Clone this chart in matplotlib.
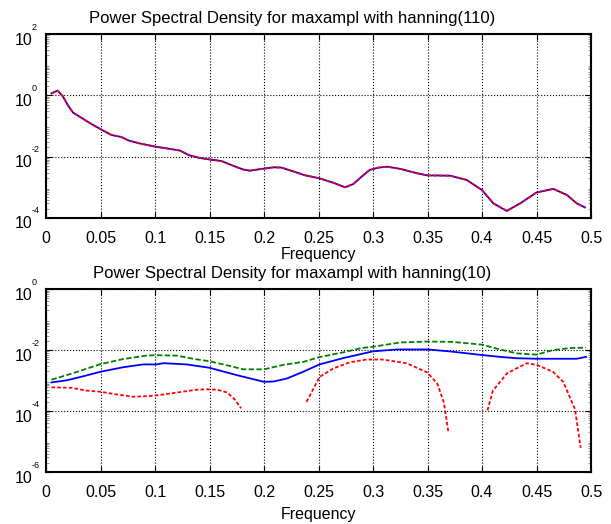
import matplotlib
matplotlib.use("Agg")
import matplotlib.pyplot as plt
import numpy as np
from matplotlib.ticker import FixedLocator, FuncFormatter, LogLocator, NullFormatter

plt.rcParams["font.family"] = ["Liberation Sans", "DejaVu Sans"]

# hanning(110) PSD: blue solid and red dashed curves coincide
top_freq = [0.005, 0.0104, 0.0153, 0.0205, 0.025, 0.031, 0.040, 0.050, 0.060, 0.069,
            0.0755, 0.086, 0.101, 0.111, 0.123, 0.131, 0.141, 0.150, 0.161, 0.172,
            0.181, 0.187, 0.196, 0.209, 0.216, 0.227, 0.237, 0.2508, 0.2636, 0.2743,
            0.282, 0.2896, 0.297, 0.305, 0.313, 0.325, 0.340, 0.350, 0.3706, 0.386,
            0.400, 0.4104, 0.4227, 0.435, 0.450, 0.4654, 0.478, 0.4869, 0.4945]
top_psd = [1.16, 1.43, 0.95, 0.45, 0.27, 0.20, 0.126, 0.079, 0.051, 0.044,
           0.034, 0.027, 0.021, 0.0186, 0.0158, 0.0112, 0.0091, 0.0081, 0.0072, 0.0050,
           0.0038, 0.0035, 0.0039, 0.0045, 0.0044, 0.0033, 0.0025, 0.00197, 0.00141, 0.00100,
           0.00129, 0.00224, 0.0037, 0.0044, 0.0047, 0.0040, 0.0029, 0.00245, 0.0024, 0.00174,
           0.00081, 0.00030, 0.00017, 0.00030, 0.00068, 0.00089, 0.00056, 0.00030, 0.00022]

# hanning(10) PSD estimate (blue), upper bound (green), lower bound (red)
psd_freq = [0.005, 0.019, 0.035, 0.050, 0.071, 0.089, 0.101, 0.108, 0.129, 0.150,
            0.175, 0.200, 0.2086, 0.221, 0.236, 0.2508, 0.273, 0.300, 0.322, 0.350,
            0.370, 0.400, 0.4165, 0.432, 0.450, 0.487, 0.4954]
psd_val = [8.7e-4, 1.02e-3, 1.41e-3, 1.95e-3, 2.75e-3, 3.39e-3, 3.39e-3, 3.72e-3, 3.39e-3, 2.63e-3,
           1.51e-3, 9.1e-4, 9.3e-4, 1.17e-3, 1.95e-3, 3.39e-3, 5.5e-3, 9.1e-3, 1.05e-2, 1.05e-2,
           9.1e-3, 6.9e-3, 6.0e-3, 5.4e-3, 5.2e-3, 5.2e-3, 6.0e-3]

upper_freq = [0.005, 0.019, 0.034, 0.050, 0.071, 0.092, 0.101, 0.120, 0.135, 0.150,
              0.169, 0.181, 0.200, 0.218, 0.236, 0.251, 0.273, 0.2896, 0.300, 0.325,
              0.350, 0.373, 0.400, 0.4165, 0.432, 0.450, 0.465, 0.481, 0.4954]
upper_val = [1.07e-3, 1.51e-3, 2.24e-3, 3.47e-3, 5.1e-3, 6.6e-3, 6.8e-3, 6.6e-3, 5.2e-3, 4.3e-3,
             3.0e-3, 2.34e-3, 2.34e-3, 3.3e-3, 4.1e-3, 5.9e-3, 8.5e-3, 1.17e-2, 1.29e-2, 1.78e-2,
             1.91e-2, 1.86e-2, 1.51e-2, 1.05e-2, 7.8e-3, 7.1e-3, 1.0e-2, 1.17e-2, 1.20e-2]

# lower bound goes non-positive in the gaps (nan)
lower_freq = [0.005, 0.0235, 0.037, 0.050, 0.065, 0.080, 0.095, 0.108, 0.123, 0.138,
              0.147, 0.157, 0.166, 0.173, 0.179, 0.200,
              0.239, 0.251, 0.2636, 0.279, 0.294, 0.309, 0.331, 0.350, 0.359, 0.365, 0.369, 0.390,
              0.405, 0.410, 0.423, 0.441, 0.450, 0.465, 0.4745, 0.4853, 0.4905]
lower_val = [6.0e-4, 5.8e-4, 4.7e-4, 4.3e-4, 3.5e-4, 2.95e-4, 3.1e-4, 3.5e-4, 4.2e-4, 5.0e-4,
             5.2e-4, 5.0e-4, 4.1e-4, 2.45e-4, 1.23e-4, np.nan,
             2.0e-4, 1.32e-3, 2.5e-3, 4.0e-3, 4.9e-3, 4.9e-3, 3.7e-3, 1.82e-3, 7.9e-4, 1.9e-4, 2.2e-5, np.nan,
             1.05e-4, 4.7e-4, 1.74e-3, 3.7e-3, 3.3e-3, 1.95e-3, 9.1e-4, 1.15e-4, 6.2e-6]

x_ticks = [0, 0.05, 0.1, 0.15, 0.2, 0.25, 0.3, 0.35, 0.4, 0.45, 0.5]

FS = 11.5


def style_axes(ax, exps):
    ax.set_yscale("log")
    ax.set_xlim(0, 0.5)
    ax.set_ylim(10.0 ** min(exps), 10.0 ** max(exps))
    ax.set_xticks(x_ticks)
    ax.xaxis.set_major_formatter(FuncFormatter(lambda v, _: f"{v:g}"))
    ax.yaxis.set_major_locator(FixedLocator([10.0 ** e for e in exps]))
    ax.yaxis.set_minor_locator(LogLocator(base=10, subs=np.arange(2, 10)))
    ax.yaxis.set_minor_formatter(NullFormatter())
    ax.set_yticklabels([])
    ax.tick_params(which="both", direction="in", top=True, right=True)
    ax.tick_params(which="major", length=4, width=0.8)
    ax.tick_params(which="minor", length=2, width=0.5, color="0.4")
    ax.tick_params(axis="x", labelsize=FS, pad=9.5)
    ax.grid(True, which="major", color="black", linestyle=":", linewidth=0.8)
    for sp in ax.spines.values():
        sp.set_linewidth(1.5)
    for e in exps:
        ax.annotate("10", xy=(0, 10.0 ** e), xycoords=("axes fraction", "data"),
                    xytext=(-14, -6), textcoords="offset pixels",
                    ha="right", va="center", fontsize=FS)
        ax.annotate(str(e), xy=(0, 10.0 ** e), xycoords=("axes fraction", "data"),
                    xytext=(-14, 7), textcoords="offset pixels",
                    ha="left", va="center", fontsize=6.5)
    ax.set_xlabel("Frequency", fontsize=FS)
    ax.xaxis.label.set_va("center")


fig = plt.figure(figsize=(6.11, 5.24), dpi=100)
ax1 = fig.add_axes([0.0753, 0.584, 0.892, 0.351])
ax2 = fig.add_axes([0.0753, 0.0992, 0.892, 0.349])

ax1.plot(top_freq, top_psd, color="blue", linewidth=1.3)
ax1.plot(top_freq, top_psd, color="red", linewidth=1.3, linestyle=(0, (2, 1.2)))
style_axes(ax1, [2, 0, -2, -4])
ax1.xaxis.set_label_coords(0.5, -37 / 184)
ax1.set_title("Power Spectral Density for maxampl with hanning(110)",
              fontsize=12, x=0.451, pad=8)

ax2.plot(psd_freq, psd_val, color="blue", linewidth=1.3)
ax2.plot(upper_freq, upper_val, color="#008000", linewidth=1.3, linestyle=(0, (3, 1.3)))
ax2.plot(lower_freq, lower_val, color="red", linewidth=1.3, linestyle=(0, (2, 1.2)))
style_axes(ax2, [0, -2, -4, -6])
ax2.xaxis.set_label_coords(0.5, -43 / 183)
ax2.set_title("Power Spectral Density for maxampl with hanning(10)",
              fontsize=12, x=0.451, pad=8)

fig.savefig("out.png", dpi=100)
